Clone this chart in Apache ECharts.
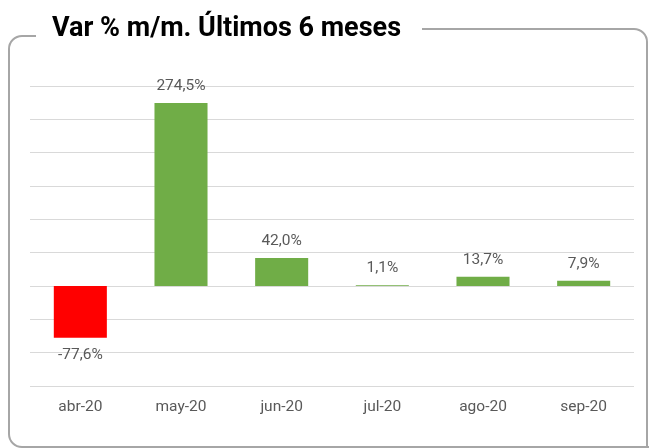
<!DOCTYPE html>
<html><head><meta charset="utf-8">
<script src="https://cdn.jsdelivr.net/npm/echarts@6/dist/echarts.min.js"></script>
<style>html,body{margin:0;padding:0;background:#fff}#c{width:649px;height:448px}</style>
</head><body><div id="c"></div>
<script>
const categories = ['abr-20','may-20','jun-20','jul-20','ago-20','sep-20'];
const values = [-77.6, 274.5, 42.0, 1.1, 13.7, 7.9];
const titleText = 'Var % m/m. Últimos 6 meses';
const chart = echarts.init(document.getElementById('c'), null, {renderer:'canvas'});
const fmt = v => v.toFixed(1).replace('.', ',') + '%';
const fs = {stroke:'#a6a6a6',lineWidth:2,fill:null};
const R = 13;
chart.setOption({
  animation:false,
  backgroundColor:'#fff',
  title:{text:titleText,left:44,top:16,padding:[0,8,0,8],
    textStyle:{fontFamily:'Roboto',fontWeight:'bold',fontSize:27,color:'#000'}},
  graphic:[
    {type:'line',z:-1,shape:{x1:36,y1:36,x2:22,y2:36},style:fs},
    {type:'arc',z:-1,shape:{cx:22,cy:36+R,r:R,startAngle:Math.PI,endAngle:Math.PI*1.5},style:fs},
    {type:'line',z:-1,shape:{x1:9,y1:49,x2:9,y2:434},style:fs},
    {type:'arc',z:-1,shape:{cx:22,cy:434,r:R,startAngle:Math.PI*0.5,endAngle:Math.PI},style:fs},
    {type:'line',z:-1,shape:{x1:22,y1:447,x2:660,y2:447},style:fs},
    {type:'line',z:-1,shape:{x1:422,y1:29,x2:634,y2:29},style:fs},
    {type:'arc',z:-1,shape:{cx:634,cy:29+R,r:R,startAngle:Math.PI*1.5,endAngle:Math.PI*2},style:fs},
    {type:'line',z:-1,shape:{x1:647,y1:42,x2:647,y2:460},style:fs}
  ],
  grid:{left:30,right:15,top:86,bottom:62},
  xAxis:{type:'category',data:categories,axisLine:{show:false},axisTick:{show:false},
    axisLabel:{color:'#595959',fontFamily:'Roboto',fontSize:15.5,margin:13}},
  yAxis:{type:'value',min:-150,max:300,interval:50,axisLabel:{show:false},axisLine:{show:false},axisTick:{show:false},
    splitLine:{lineStyle:{color:'#d9d9d9',width:1}}},
  series:[{type:'bar',barWidth:'52.7%',
    data:values.map(v=>({value:v,itemStyle:{color:v<0?'#ff0000':'#70ad47'},
      label:{position:v<0?'bottom':'top'}})),
    label:{show:true,color:'#595959',fontFamily:'Roboto',fontSize:15.5,distance:9,formatter:p=>fmt(p.value)}}]
});
</script></body></html>
